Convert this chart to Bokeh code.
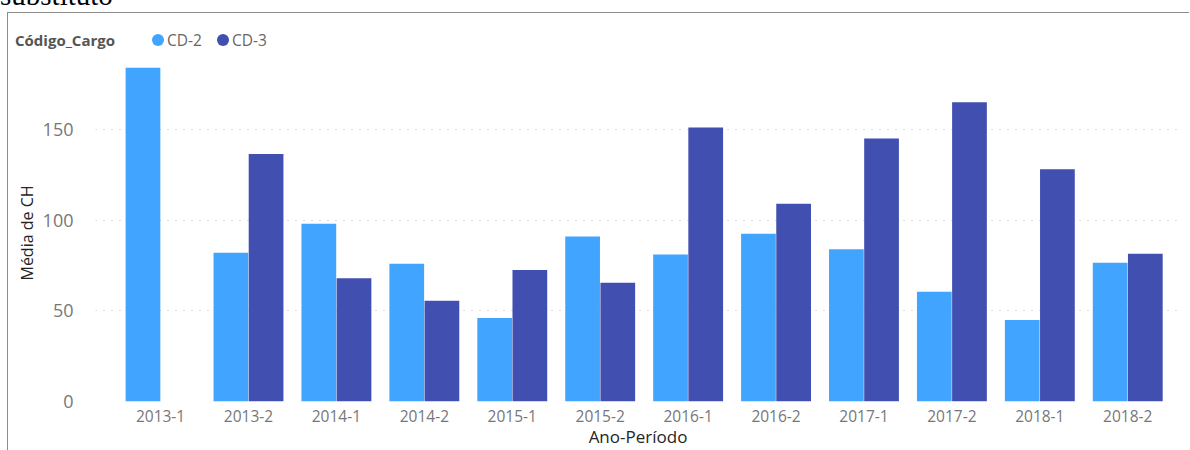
import numpy as np
from bokeh.plotting import figure
from bokeh.models import ColumnDataSource, Range1d, FixedTicker, Div
from bokeh.layouts import column
from bokeh.transform import dodge
from bokeh.embed import file_html
from bokeh.resources import INLINE

# ---- data ----
periods = ["2013-1", "2013-2", "2014-1", "2014-2", "2015-1", "2015-2",
           "2016-1", "2016-2", "2017-1", "2017-2", "2018-1", "2018-2"]
cd2 = [184, 82, 98, 76, 46, 91, 81, 92.5, 84, 60.5, 45, 76.5]
cd3 = [np.nan, 136.5, 68, 55.5, 72.5, 65.5, 151, 109, 145, 165, 128, 81.5]
series_names = ["CD-2", "CD-3"]
legend_title = "Código_Cargo"
y_ticks = [0, 50, 100, 150]

C2 = "#41A5FF"
C3 = "#404FB0"
FONT = "Open Sans"
BORDER = "1px solid #8C8C8C"

# ---- header: cut-off document text ----
title_div = Div(
    text=("<div style=\"position:relative;height:12px;width:1190px;overflow:hidden;\">"
          "<div style=\"position:absolute;left:0px;top:-19px;"
          "font-family:'Liberation Serif';font-size:29px;line-height:29px;"
          "color:#000;white-space:nowrap;\">substituto</div></div>"),
    width=1190, height=12, margin=0,
    styles={"overflow": "hidden", "padding": "0"})

# ---- legend row (inside the visual's border) ----
def _abs(left, top, inner):
    return f"<span style=\"position:absolute;left:{left}px;top:{top}px;{inner}\">"

legend_html = (
    "<div style=\"position:relative;width:1182px;height:42px;"
    f"font-family:'{FONT}';white-space:nowrap;\">"
    + _abs(7, 17, "font-size:15px;font-weight:bold;color:#555555;line-height:20px;")
    + legend_title + "</span>"
    + _abs(144, 21, f"width:12px;height:12px;border-radius:50%;background:{C2};")
    + "</span>"
    + _abs(159, 17, "font-size:15.5px;color:#666666;line-height:20px;")
    + series_names[0] + "</span>"
    + _abs(209, 21, f"width:12px;height:12px;border-radius:50%;background:{C3};")
    + "</span>"
    + _abs(224, 17, "font-size:15.5px;color:#666666;line-height:20px;")
    + series_names[1] + "</span>"
    + "</div>")
legend_div = Div(text=legend_html, width=1182, height=43, margin=(0, 0, 0, 7),
                 styles={"border-top": BORDER, "border-left": BORDER,
                         "box-sizing": "border-box", "overflow": "hidden"})

# ---- chart ----
p = figure(width=1182, height=395, output_backend="svg", toolbar_location=None,
           x_range=Range1d(-0.74, 11.6), y_range=Range1d(0, 185.8),
           min_border_left=87, min_border_right=10, min_border_top=9,
           min_border_bottom=49, margin=(0, 0, 0, 7),
           styles={"border-left": BORDER})
p.outline_line_color = None

src = ColumnDataSource(dict(x=list(range(len(periods))), cd2=cd2,
                            cd3=np.array(cd3, dtype=float)))
p.vbar(x=dodge("x", -0.2), top="cd2", width=0.395, source=src,
       fill_color=C2, line_color=None)
p.vbar(x=dodge("x", 0.2), top="cd3", width=0.395, source=src,
       fill_color=C3, line_color=None)

xa = p.xaxis[0]
xa.ticker = FixedTicker(ticks=list(range(len(periods))))
xa.major_label_overrides = {i: s for i, s in enumerate(periods)}
xa.axis_line_color = None
xa.major_tick_line_color = None
xa.minor_tick_line_color = None
xa.major_label_standoff = 2
xa.major_label_text_font = FONT
xa.major_label_text_font_size = "15.5px"
xa.major_label_text_color = "#777777"
xa.axis_label = "Ano-Período"
xa.axis_label_standoff = 0
xa.axis_label_text_font = FONT
xa.axis_label_text_font_style = "normal"
xa.axis_label_text_font_size = "17px"
xa.axis_label_text_color = "#252423"

ya = p.yaxis[0]
ya.ticker = FixedTicker(ticks=y_ticks)
ya.axis_line_color = None
ya.major_tick_line_color = None
ya.minor_tick_line_color = None
ya.major_label_standoff = 16
ya.major_label_text_font = FONT
ya.major_label_text_font_size = "18px"
ya.major_label_text_color = "#777777"
ya.axis_label = "Média de CH"
ya.axis_label_standoff = 2
ya.axis_label_text_font = FONT
ya.axis_label_text_font_style = "normal"
ya.axis_label_text_font_size = "16px"
ya.axis_label_text_color = "#252423"

p.xgrid.grid_line_color = None
p.ygrid.grid_line_color = "#BDBDBD"
p.ygrid.grid_line_dash = "1 7"
p.ygrid.grid_line_width = 1.2

layout = column(title_div, legend_div, p, spacing=0, margin=0)
open("out.html", "w").write(file_html(layout, INLINE))
